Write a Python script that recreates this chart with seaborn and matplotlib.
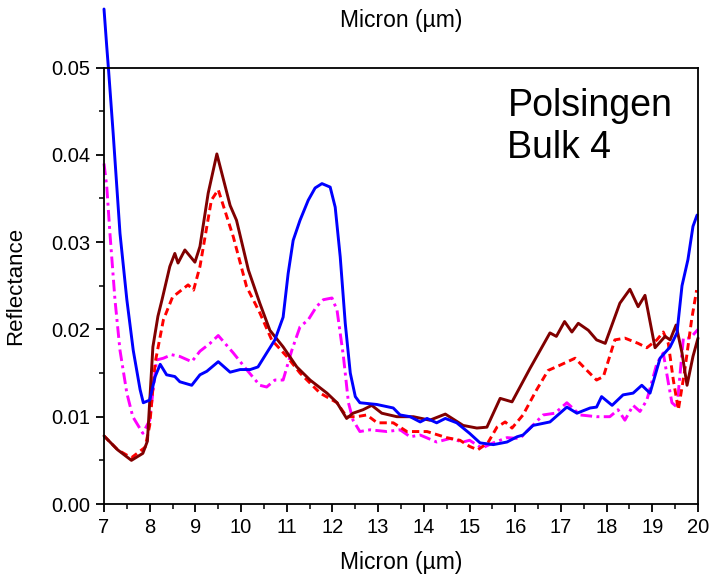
import matplotlib
matplotlib.use("Agg")
import matplotlib.pyplot as plt
import seaborn as sns
import numpy as np
import pandas as pd
from matplotlib.ticker import MultipleLocator

# ---- data ----
maroon_x = [7.0, 7.3, 7.6, 7.85, 7.95, 8.07, 8.18, 8.27, 8.44, 8.55, 8.62, 8.77, 8.99, 9.1, 9.28, 9.47,
            9.76, 9.9, 10.16, 10.41, 10.63, 10.92, 11.22, 11.51, 11.88, 12.1, 12.31, 12.45, 12.67, 12.86,
            13.08, 13.41, 13.77, 14.13, 14.47, 14.86, 15.16, 15.38, 15.67, 15.93, 16.32, 16.76, 16.9,
            17.08, 17.24, 17.38, 17.6, 17.78, 17.97, 18.29, 18.51, 18.69, 18.84, 19.06, 19.28, 19.39,
            19.52, 19.65, 19.76, 19.89, 20.0]
maroon_y = [0.0078, 0.0062, 0.0050, 0.0058, 0.0072, 0.0180, 0.0215, 0.0234, 0.0272, 0.0287, 0.0276,
            0.0291, 0.0277, 0.0295, 0.0356, 0.0401, 0.0342, 0.0325, 0.0268, 0.0230, 0.0199, 0.0180,
            0.0157, 0.0142, 0.0127, 0.0116, 0.0098, 0.0104, 0.0108, 0.0113, 0.0104, 0.0100, 0.0100,
            0.0096, 0.0103, 0.0090, 0.0087, 0.0088, 0.0121, 0.0117, 0.0155, 0.0196, 0.0192, 0.0209,
            0.0197, 0.0207, 0.0199, 0.0188, 0.0184, 0.0230, 0.0246, 0.0226, 0.0239, 0.0179, 0.0192,
            0.0188, 0.0205, 0.0173, 0.0136, 0.0169, 0.0190]

red_x = [7.0, 7.3, 7.6, 7.9, 8.0, 8.12, 8.3, 8.5, 8.84, 8.96, 9.1, 9.35, 9.5, 9.83, 10.12, 10.41,
         10.67, 11.0, 11.29, 11.73, 12.1, 12.31, 12.53, 12.75, 12.98, 13.33, 13.63, 14.07, 14.5,
         14.79, 15.0, 15.18, 15.4, 15.6, 15.78, 15.93, 16.17, 16.47, 16.72, 16.98, 17.31, 17.57,
         17.78, 17.93, 18.18, 18.4, 18.69, 18.88, 19.1, 19.24, 19.35, 19.46, 19.57, 19.71, 19.86, 19.97]
red_y = [0.0078, 0.0062, 0.0053, 0.0065, 0.0090, 0.0162, 0.0211, 0.0237, 0.0251, 0.0245, 0.0272,
         0.0348, 0.0360, 0.0306, 0.0249, 0.0219, 0.0188, 0.0169, 0.0150, 0.0127, 0.0116, 0.0100,
         0.0100, 0.0102, 0.0093, 0.0093, 0.0083, 0.0083, 0.0076, 0.0073, 0.0066, 0.0062, 0.0070,
         0.0088, 0.0094, 0.0087, 0.0102, 0.0131, 0.0153, 0.0159, 0.0167, 0.0153, 0.0142, 0.0146,
         0.0188, 0.0190, 0.0184, 0.0179, 0.0188, 0.0197, 0.0184, 0.0142, 0.0108, 0.0153, 0.0211, 0.0245]

magenta_x = [7.0, 7.06, 7.13, 7.24, 7.35, 7.5, 7.63, 7.85, 8.0, 8.15, 8.3, 8.48, 8.66, 8.92, 9.1,
             9.32, 9.5, 9.83, 10.12, 10.41, 10.56, 10.74, 10.92, 11.11, 11.29, 11.47, 11.65, 11.8,
             11.99, 12.1, 12.24, 12.35, 12.45, 12.6, 12.82, 13.19, 13.48, 13.7, 13.92, 14.28, 14.57,
             14.86, 15.0, 15.27, 15.52, 15.82, 16.1, 16.25, 16.61, 16.87, 17.13, 17.42, 17.78, 18.07,
             18.25, 18.4, 18.58, 18.73, 18.88, 19.1, 19.24, 19.35, 19.43, 19.54, 19.68, 19.83, 20.0]
magenta_y = [0.0390, 0.0364, 0.0310, 0.0234, 0.0176, 0.0127, 0.0100, 0.0081, 0.0096, 0.0165, 0.0167,
             0.0171, 0.0169, 0.0163, 0.0175, 0.0184, 0.0193, 0.0173, 0.0154, 0.0136, 0.0134, 0.0142,
             0.0142, 0.0176, 0.0203, 0.0211, 0.0226, 0.0234, 0.0236, 0.0222, 0.0169, 0.0116, 0.0096,
             0.0083, 0.0085, 0.0083, 0.0085, 0.0077, 0.0079, 0.0071, 0.0075, 0.0071, 0.0073, 0.0064,
             0.0070, 0.0076, 0.0075, 0.0083, 0.0102, 0.0104, 0.0116, 0.0102, 0.0100, 0.0100, 0.0108,
             0.0096, 0.0113, 0.0106, 0.0119, 0.0161, 0.0173, 0.0139, 0.0116, 0.0111, 0.0190, 0.0190, 0.0200]

blue_x = [7.0, 7.06, 7.1, 7.2, 7.35, 7.5, 7.64, 7.79, 7.86, 8.0, 8.12, 8.23, 8.37, 8.55, 8.66, 8.92,
          9.1, 9.25, 9.5, 9.76, 9.98, 10.2, 10.37, 10.56, 10.74, 10.92, 11.03, 11.14, 11.29, 11.47,
          11.62, 11.77, 11.95, 12.06, 12.17, 12.28, 12.39, 12.5, 12.6, 12.97, 13.33, 13.48, 13.7,
          13.92, 14.07, 14.28, 14.47, 14.72, 15.0, 15.23, 15.52, 15.82, 16.04, 16.17, 16.39, 16.76,
          17.13, 17.35, 17.64, 17.78, 17.89, 18.12, 18.36, 18.58, 18.77, 18.95, 19.17, 19.39, 19.54,
          19.65, 19.78, 19.89, 19.98]
blue_y = [0.0567, 0.0524, 0.0497, 0.0425, 0.0310, 0.0234, 0.0176, 0.0131, 0.0116, 0.0119, 0.0146,
          0.0160, 0.0148, 0.0146, 0.0140, 0.0136, 0.0148, 0.0152, 0.0163, 0.0151, 0.0154, 0.0154,
          0.0157, 0.0173, 0.0188, 0.0214, 0.0264, 0.0302, 0.0325, 0.0348, 0.0362, 0.0367, 0.0363,
          0.0340, 0.0283, 0.0207, 0.0150, 0.0123, 0.0116, 0.0114, 0.0110, 0.0102, 0.0100, 0.0094,
          0.0098, 0.0093, 0.0098, 0.0093, 0.0081, 0.0070, 0.0068, 0.0071, 0.0077, 0.0079, 0.0090,
          0.0094, 0.0111, 0.0104, 0.0110, 0.0111, 0.0123, 0.0113, 0.0125, 0.0127, 0.0136, 0.0127,
          0.0167, 0.0180, 0.0196, 0.0250, 0.0280, 0.0318, 0.0331]

x_ticks = list(range(7, 21))
y_ticks = [0.00, 0.01, 0.02, 0.03, 0.04, 0.05]
y_tick_labels = ["0.00", "0.01", "0.02", "0.03", "0.04", "0.05"]

# ---- plotting ----
sns.set_theme(style="ticks")
plt.rcParams["font.family"] = ["Liberation Sans", "DejaVu Sans"]
plt.rcParams["text.color"] = "black"
plt.rcParams["axes.labelcolor"] = "black"
plt.rcParams["xtick.color"] = "black"
plt.rcParams["ytick.color"] = "black"

fig = plt.figure(figsize=(7.11, 5.81), dpi=100)
ax_h = (504 - 67.5) / 581
ax_w = (698 - 104) / 711
ax = fig.add_axes([104 / 711, 1 - 504 / 581, ax_w, ax_h])

lw = 2.1
sns.lineplot(x=magenta_x, y=magenta_y, ax=ax, color="#FF00FF", linewidth=lw, sort=False)
ax.lines[-1].set_linestyle((0, (4, 1.5, 1, 1.5)))
sns.lineplot(x=red_x, y=red_y, ax=ax, color="#FF0000", linewidth=lw, sort=False)
ax.lines[-1].set_linestyle((0, (2.5, 1.5)))
sns.lineplot(x=maroon_x, y=maroon_y, ax=ax, color="#800000", linewidth=lw, sort=False)
sns.lineplot(x=blue_x, y=blue_y, ax=ax, color="#0000FF", linewidth=lw, sort=False)
for ln in ax.lines:
    ln.set_clip_on(False)

ax.set_xlim(7, 20)
ax.set_ylim(0, 0.05)
ax.set_xticks(x_ticks)
ax.set_xticklabels([str(t) for t in x_ticks])
ax.set_yticks(y_ticks)
ax.set_yticklabels(y_tick_labels)
ax.xaxis.set_minor_locator(MultipleLocator(0.5))
ax.yaxis.set_minor_locator(MultipleLocator(0.005))
ax.tick_params(axis="both", which="major", direction="out", length=6, width=1.3,
               labelsize=14.5, colors="black", pad=4)
ax.tick_params(axis="both", which="minor", direction="out", length=3.5, width=1.1, colors="black")
ax.tick_params(top=False, right=False, which="both")
for s in ax.spines.values():
    s.set_linewidth(1.3)
    s.set_color("black")

ax.set_xlabel("Micron (µm)", fontsize=16.5, color="black")
ax.xaxis.set_label_coords(0.5, -(563 - 504) / (ax_h * 581))
ax.xaxis.label.set_va("center")
ax.set_ylabel("Reflectance", fontsize=16, color="black")
ax.yaxis.set_label_coords((16 - 104) / (ax_w * 711), 0.5)
ax.yaxis.label.set_va("center")
fig.text(401 / 711, 1 - 20 / 581, "Micron (µm)", ha="center", va="center", fontsize=16.5, color="black")

ax.text(15.83, 0.0476, "Polsingen\nBulk 4", fontsize=27, ha="left", va="top",
        linespacing=1.2, color="black")

fig.savefig("out.png", dpi=100)
